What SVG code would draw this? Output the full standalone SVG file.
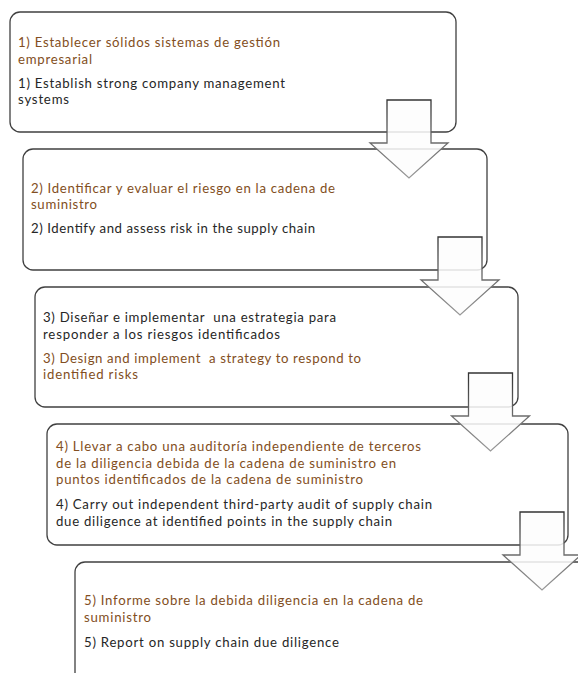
<svg xmlns="http://www.w3.org/2000/svg" width="578" height="673" viewBox="0 0 578 673">
<style>
  .box { fill: #ffffff; stroke: #404040; stroke-width: 1.3; }
  text { font-family: Lato, "Open Sans", "Liberation Sans", sans-serif; font-size: 13.2px; }
  .es { fill: #824E22; }
  .en { fill: #262626; }
  .arrow { fill: #fdfdfd; fill-opacity: 0.86; stroke: url(#ag); stroke-width: 1.3; stroke-linejoin: miter; }
</style>
<defs>
  <linearGradient id="ag" x1="0" y1="0" x2="0" y2="1">
    <stop offset="0" stop-color="#333333"/>
    <stop offset="1" stop-color="#9a9a9a"/>
  </linearGradient>
  <path id="arr" d="M0,0 H44 V43 H61 L22,78 L-17,43 H0 Z"/>
</defs>
<rect width="578" height="673" fill="#ffffff"/>

<g id="box1">
  <rect class="box" x="10" y="12" width="446" height="120" rx="10"/>
  <text class="es" x="18" y="47" textLength="262">1) Establecer sólidos sistemas de gestión</text>
  <text class="es" x="18" y="63.7" textLength="74">empresarial</text>
  <text class="en" x="18" y="87.7" textLength="267">1) Establish strong company management</text>
  <text class="en" x="18" y="104.4" textLength="51">systems</text>
</g>

<g id="box2">
  <rect class="box" x="23" y="149" width="464" height="121" rx="10"/>
  <text class="es" x="31" y="192.5" textLength="304">2) Identificar y evaluar el riesgo en la cadena de</text>
  <text class="es" x="31" y="209.2" textLength="66">suministro</text>
  <text class="en" x="31" y="233.2" textLength="284">2) Identify and assess risk in the supply chain</text>
</g>

<g id="box3">
  <rect class="box" x="35" y="287" width="483" height="120" rx="10"/>
  <text class="en" x="43" y="322" textLength="293" xml:space="preserve">3) Diseñar e implementar  una estrategia para</text>
  <text class="en" x="43" y="338.7" textLength="237">responder a los riesgos identificados</text>
  <text class="es" x="43" y="362.7" textLength="318" xml:space="preserve">3) Design and implement  a strategy to respond to</text>
  <text class="es" x="43" y="379.4" textLength="95">identified risks</text>
</g>

<g id="box4">
  <rect class="box" x="47" y="424" width="521" height="121" rx="10"/>
  <text class="es" x="56" y="451" textLength="365">4) Llevar a cabo una auditoría independiente de terceros</text>
  <text class="es" x="56" y="467.7" textLength="340">de la diligencia debida de la cadena de suministro en</text>
  <text class="es" x="56" y="484.4" textLength="307">puntos identificados de la cadena de suministro</text>
  <text class="en" x="56" y="509" textLength="376">4) Carry out independent third-party audit of supply chain</text>
  <text class="en" x="56" y="525.7" textLength="336">due diligence at identified points in the supply chain</text>
</g>

<g id="box5">
  <rect class="box" x="75" y="562" width="530" height="140" rx="10"/>
  <text class="es" x="84" y="605" textLength="339">5) Informe sobre la debida diligencia en la cadena de</text>
  <text class="es" x="84" y="621.7" textLength="67">suministro</text>
  <text class="en" x="84" y="646.5" textLength="255">5) Report on supply chain due diligence</text>
</g>

<g id="connectors">
  <use class="arrow" href="#arr" transform="translate(387,100)"/>
  <use class="arrow" href="#arr" transform="translate(438,237)"/>
  <use class="arrow" href="#arr" transform="translate(468.5,373)"/>
  <use class="arrow" href="#arr" transform="translate(520,512)"/>
</g>
</svg>
